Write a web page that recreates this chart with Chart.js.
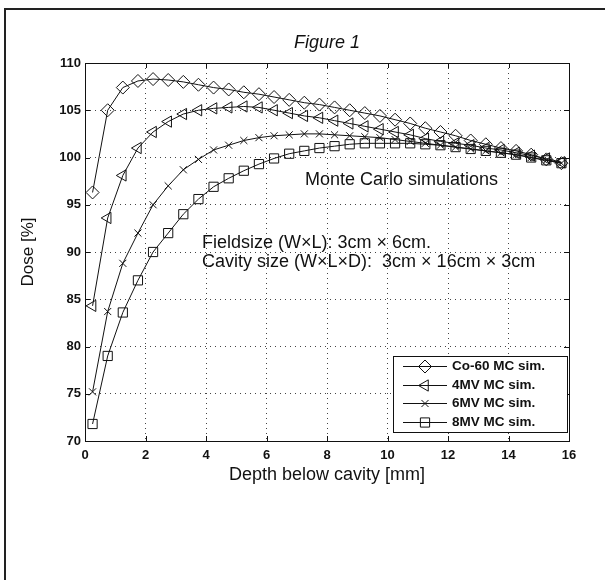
<!DOCTYPE html>
<html>
<head>
<meta charset="utf-8">
<script src="https://cdn.jsdelivr.net/npm/chart.js@4.4.1/dist/chart.umd.min.js"></script>
<style>
  html, body { margin: 0; padding: 0; background: #fff; overflow: hidden; }
  #wrap { position: relative; width: 605px; height: 580px; overflow: hidden; }
  #frame { position: absolute; left: 4px; top: 8px; width: 640px; height: 620px;
           border-left: 2px solid #222; border-top: 2px solid #222; }
  #c { position: absolute; left: 0; top: 0; }
</style>
</head>
<body>
<div id="wrap">
  <div id="frame"></div>
  <canvas id="c" width="605" height="580"></canvas>
</div>
<script>
// Depth below the cavity (mm) at which each dose value was scored
const depthMm = [0.25, 0.75, 1.25, 1.75, 2.25, 2.75, 3.25, 3.75, 4.25, 4.75, 5.25, 5.75,
                 6.25, 6.75, 7.25, 7.75, 8.25, 8.75, 9.25, 9.75, 10.25, 10.75, 11.25, 11.75,
                 12.25, 12.75, 13.25, 13.75, 14.25, 14.75, 15.25, 15.75];

// Relative dose [%] per beam quality
const co60Dose = [96.3, 105.0, 107.4, 108.1, 108.3, 108.2, 108.0, 107.7, 107.4, 107.2, 106.9, 106.7,
                  106.4, 106.1, 105.8, 105.6, 105.3, 105.0, 104.7, 104.4, 104.0, 103.6, 103.1, 102.7,
                  102.3, 101.8, 101.4, 101.0, 100.7, 100.3, 99.8, 99.4];
const mv4Dose  = [84.3, 93.6, 98.1, 101.0, 102.7, 103.8, 104.6, 105.0, 105.2, 105.3, 105.4, 105.3,
                  105.0, 104.7, 104.4, 104.2, 103.9, 103.6, 103.3, 103.0, 102.7, 102.4, 102.0, 101.7,
                  101.5, 101.3, 101.0, 100.8, 100.5, 100.2, 99.9, 99.5];
const mv6Dose  = [75.2, 83.7, 88.8, 92.0, 95.0, 97.0, 98.7, 99.8, 100.8, 101.3, 101.8, 102.1,
                  102.3, 102.4, 102.5, 102.5, 102.4, 102.3, 102.2, 102.1, 101.9, 101.7, 101.5, 101.3,
                  101.1, 100.9, 100.7, 100.5, 100.3, 100.0, 99.7, 99.4];
const mv8Dose  = [71.8, 79.0, 83.6, 87.0, 90.0, 92.0, 94.0, 95.6, 96.9, 97.8, 98.6, 99.3,
                  99.9, 100.4, 100.7, 101.0, 101.2, 101.4, 101.5, 101.5, 101.5, 101.5, 101.4, 101.3,
                  101.1, 100.9, 100.7, 100.5, 100.3, 100.0, 99.7, 99.4];

const seriesLabels = ['Co-60 MC sim.', '4MV MC sim.', '6MV MC sim.', '8MV MC sim.'];
const xTickValues = [0, 2, 4, 6, 8, 10, 12, 14, 16];
const yTickValues = [70, 75, 80, 85, 90, 95, 100, 105, 110];

const FONT = '"Liberation Sans", Arial, Helvetica, sans-serif';
const INK = '#111';

function toPoints(values) {
  return values.map((v, i) => ({ x: depthMm[i], y: v }));
}

const markerStyles = [
  { pointStyle: 'rectRot', pointRadius: 6.5, pointRotation: 0 },
  { pointStyle: 'triangle', pointRadius: 6.5, pointRotation: -90 },
  { pointStyle: 'crossRot', pointRadius: 5, pointRotation: 0 },
  { pointStyle: 'rect', pointRadius: 6.5, pointRotation: 0 }
];

const seriesValues = [co60Dose, mv4Dose, mv6Dose, mv8Dose];

const datasets = seriesValues.map((vals, i) => Object.assign({
  label: seriesLabels[i],
  data: toPoints(vals),
  borderColor: INK,
  borderWidth: 1,
  backgroundColor: 'rgba(0,0,0,0)',
  pointBackgroundColor: 'rgba(0,0,0,0)',
  pointBorderColor: INK,
  pointBorderWidth: 1,
  pointHoverRadius: 6,
  tension: 0,
  clip: false
}, markerStyles[i]));

// Closed axes box with short inward tick marks
const axesBox = {
  id: 'axesBox',
  beforeDatasetsDraw(chart) {
    const { ctx, chartArea: a, scales: { x, y } } = chart;
    ctx.save();
    ctx.strokeStyle = INK;
    ctx.lineWidth = 1;
    ctx.strokeRect(Math.round(a.left) + 0.5, Math.round(a.top) + 0.5,
                   Math.round(a.right - a.left), Math.round(a.bottom - a.top));
    const t = 5;
    ctx.beginPath();
    xTickValues.forEach(v => {
      const px = Math.round(x.getPixelForValue(v)) + 0.5;
      ctx.moveTo(px, a.bottom); ctx.lineTo(px, a.bottom - t);
      ctx.moveTo(px, a.top); ctx.lineTo(px, a.top + t);
    });
    yTickValues.forEach(v => {
      const py = Math.round(y.getPixelForValue(v)) + 0.5;
      ctx.moveTo(a.left, py); ctx.lineTo(a.left + t, py);
      ctx.moveTo(a.right, py); ctx.lineTo(a.right - t, py);
    });
    ctx.stroke();
    ctx.restore();
  }
};

// Figure heading centred over the axes
const figureTitle = {
  id: 'figureTitle',
  afterDraw(chart) {
    const { ctx, chartArea: a } = chart;
    ctx.save();
    ctx.fillStyle = INK;
    ctx.font = 'italic 18px ' + FONT;
    ctx.textAlign = 'center';
    ctx.textBaseline = 'middle';
    ctx.fillText('Figure 1', (a.left + a.right) / 2, 43);
    ctx.restore();
  }
};

// Text notes placed in data coordinates
const notes = {
  id: 'notes',
  afterDatasetsDraw(chart) {
    const { ctx, scales: { x, y } } = chart;
    const items = [
      { text: 'Monte Carlo simulations', at: [7.27, 97.6] },
      { text: 'Fieldsize (W\u00d7L): 3cm \u00d7 6cm.', at: [3.87, 91.0] },
      { text: 'Cavity size (W\u00d7L\u00d7D):  3cm \u00d7 16cm \u00d7 3cm', at: [3.87, 88.9] }
    ];
    ctx.save();
    ctx.fillStyle = INK;
    ctx.font = '18px ' + FONT;
    ctx.textAlign = 'left';
    ctx.textBaseline = 'middle';
    items.forEach(it => ctx.fillText(it.text, x.getPixelForValue(it.at[0]), y.getPixelForValue(it.at[1])));
    ctx.restore();
  }
};

// Boxed legend in the lower right corner of the axes
const insetLegend = {
  id: 'insetLegend',
  afterDatasetsDraw(chart) {
    const { ctx, chartArea: a } = chart;
    const box = { left: 393, right: a.right - 2, bottom: a.bottom - 9, rowH: 18.5 };
    const n = chart.data.datasets.length;
    const top = box.bottom - n * box.rowH - 2;
    ctx.save();
    ctx.fillStyle = '#fff';
    ctx.fillRect(box.left, top, box.right - box.left, box.bottom - top);
    ctx.strokeStyle = INK;
    ctx.lineWidth = 1;
    ctx.strokeRect(box.left + 0.5, top + 0.5, box.right - box.left, box.bottom - top);
    ctx.font = 'bold 13.5px ' + FONT;
    ctx.textBaseline = 'middle';
    ctx.textAlign = 'left';
    chart.data.datasets.forEach((ds, i) => {
      const cy = Math.round(top + 1 + box.rowH * (i + 0.5)) + 0.5;
      const x0 = box.left + 10, x1 = box.left + 54, xm = (x0 + x1) / 2;
      ctx.strokeStyle = INK;
      ctx.lineWidth = 1;
      ctx.beginPath(); ctx.moveTo(x0, cy); ctx.lineTo(x1, cy); ctx.stroke();
      ctx.fillStyle = 'rgba(0,0,0,0)';
      Chart.helpers.drawPoint(ctx, {
        pointStyle: ds.pointStyle, rotation: ds.pointRotation,
        radius: ds.pointRadius, borderWidth: 1
      }, xm, cy);
      ctx.fillStyle = INK;
      ctx.fillText(ds.label, box.left + 59, cy);
    });
    ctx.restore();
  }
};

new Chart(document.getElementById('c'), {
  type: 'line',
  data: { datasets },
  options: {
    responsive: false,
    animation: false,
    events: [],
    layout: { padding: { left: 0, right: 36, top: 63, bottom: 0 } },
    plugins: { legend: { display: false }, title: { display: false }, tooltip: { enabled: false } },
    scales: {
      x: {
        type: 'linear', min: 0, max: 16,
        afterBuildTicks: s => { s.ticks = xTickValues.map(v => ({ value: v })); },
        afterFit: s => { s.height = 139; },
        grid: { color: '#444', lineWidth: 1, drawTicks: false },
        border: { display: false, dash: [1, 4] },
        ticks: { color: INK, font: { family: FONT, size: 13, weight: 'bold' }, padding: 7, maxRotation: 0 },
        title: { display: true, text: 'Depth below cavity [mm]', color: INK,
                 font: { family: FONT, size: 18 }, padding: { top: 0, bottom: 94 } }
      },
      y: {
        type: 'linear', min: 70, max: 110,
        afterBuildTicks: s => { s.ticks = yTickValues.map(v => ({ value: v })); },
        afterFit: s => { s.width = 85; },
        grid: { color: '#444', lineWidth: 1, drawTicks: false },
        border: { display: false, dash: [1, 4] },
        ticks: { color: INK, font: { family: FONT, size: 13, weight: 'bold' }, padding: 4 },
        title: { display: true, text: 'Dose [%]', color: INK,
                 font: { family: FONT, size: 17 }, padding: { top: 18, bottom: 0 } }
      }
    }
  },
  plugins: [axesBox, notes, insetLegend, figureTitle]
});
</script>
</body>
</html>
